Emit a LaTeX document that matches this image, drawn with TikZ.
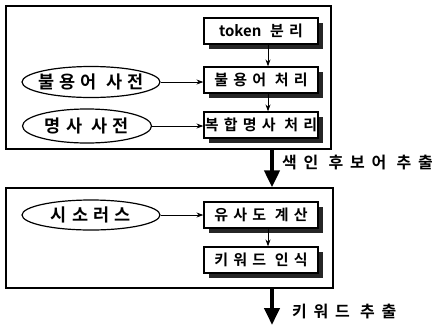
\documentclass[tikz,border=0pt]{standalone}
\usepackage{fontspec}
\newfontfamily\krA[LetterSpace=30,BoldFont={Noto Sans CJK KR Bold}]{Noto Sans CJK KR}
\newfontfamily\krB[LetterSpace=35,BoldFont={Noto Sans CJK KR Bold}]{Noto Sans CJK KR}
\newfontfamily\krC[LetterSpace=42,BoldFont={Noto Sans CJK KR Bold}]{Noto Sans CJK KR}
\newfontfamily\krL[BoldFont={Noto Sans CJK KR Bold}]{Noto Sans CJK KR}
\usetikzlibrary{shadows,arrows.meta,shapes.geometric}
\tikzset{
  frame/.style={draw, line width=1.2pt, inner sep=0pt},
  procbox/.style={draw, line width=1.2pt, fill=white, minimum width=114pt, minimum height=26pt, inner sep=0pt,
     font=\krB\bfseries\fontsize{15pt}{17pt}\selectfont,
     drop shadow={shadow xshift=4.5pt, shadow yshift=-4.5pt, fill=black, opacity=0.85}},
  dict/.style={draw, ellipse, line width=1.2pt, inner sep=0pt, font=\krA\bfseries\fontsize{17.5pt}{19pt}\selectfont},
  thin/.style={-{Stealth[length=7pt,width=5pt]}, line width=1pt},
  thick/.style={-{Triangle[length=17pt,width=15pt]}, line width=4pt},
  lab/.style={anchor=west, inner sep=0pt, font=\krC\bfseries\fontsize{16pt}{18pt}\selectfont}
}
\begin{document}
\begin{tikzpicture}[x=1pt,y=-1pt]
\useasboundingbox (0,0) rectangle (444,325);
\node[frame, minimum width=325pt, minimum height=143pt] (f1) at (168.5,77.5) {};
\node[frame, minimum width=327pt, minimum height=100pt] (f2) at (169.5,238) {};
\node[procbox] (b1) at (261,31) {{\krL token} 분리};
\node[procbox] (b2) at (261,80) {불용어 처리};
\node[procbox] (b3) at (261,125) {복합명사 처리};
\node[procbox] (b4) at (261,215) {유사도 계산};
\node[procbox] (b5) at (261,260) {키워드 인식};
\node[dict, minimum width=138pt, minimum height=31pt] (e1) at (91,82) {\makebox[0pt]{불용어 사전}};
\node[dict, minimum width=129pt, minimum height=34pt] (e2) at (87,126) {\makebox[0pt]{명사 사전}};
\node[dict, minimum width=138pt, minimum height=30pt] (e3) at (91,215) {\makebox[0pt]{시소러스}};
\coordinate (ax) at (268,0);
\coordinate (bx) at (272,0);
\coordinate (bend) at (272,325);
\draw[thin] (b1.south -| ax) -- (b2.north -| ax);
\draw[thin] (b2.south -| ax) -- (b3.north -| ax);
\draw[thin] (b4.south -| ax) -- (b5.north -| ax);
\draw[thin] (e1.east) -- (e1.east -| b2.west);
\draw[thin] (e2.east) -- (e2.east -| b3.west);
\draw[thin] (e3.east) -- (e3.east -| b4.west);
\draw[thick] (f1.south -| bx) -- (f2.north -| bx);
\draw[thick] (f2.south -| bx) -- (bend);
\node[lab] (l1) at (282,163) {색인 후보어 추출};
\node[lab] (l2) at (292,312) {키워드 추출};
\end{tikzpicture}
\end{document}
